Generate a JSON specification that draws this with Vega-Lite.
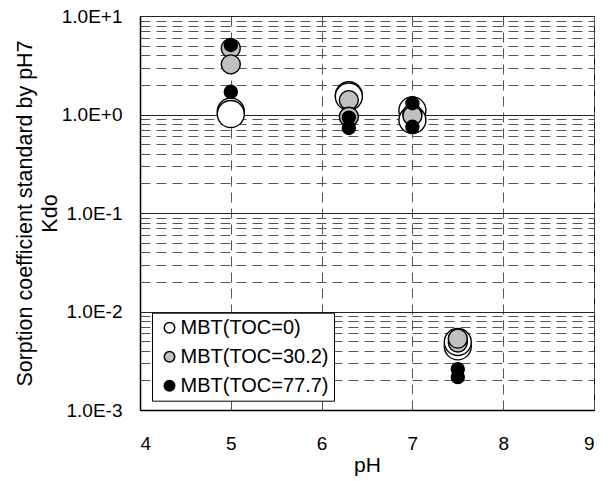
{
  "$schema": "https://vega.github.io/schema/vega-lite/v6.json",
  "autosize": "none",
  "width": 454,
  "height": 394,
  "padding": {"left": 140, "top": 16, "right": 14, "bottom": 71},
  "background": "white",
  "config": {
    "font": "Liberation Sans",
    "view": {"stroke": "black", "strokeWidth": 1}
  },
  "data": {
    "values": [
      {"pH": 5, "Kdo": 1.07, "series": "MBT(TOC=0)"},
      {"pH": 5, "Kdo": 1.01, "series": "MBT(TOC=0)"},
      {"pH": 6.3, "Kdo": 1.57, "series": "MBT(TOC=0)"},
      {"pH": 6.3, "Kdo": 1.52, "series": "MBT(TOC=0)"},
      {"pH": 7, "Kdo": 1.10, "series": "MBT(TOC=0)"},
      {"pH": 7, "Kdo": 0.88, "series": "MBT(TOC=0)"},
      {"pH": 7.5, "Kdo": 0.00443, "series": "MBT(TOC=0)"},
      {"pH": 7.5, "Kdo": 0.0049, "series": "MBT(TOC=0)"},
      {"pH": 5, "Kdo": 4.70, "series": "MBT(TOC=30.2)"},
      {"pH": 5, "Kdo": 3.23, "series": "MBT(TOC=30.2)"},
      {"pH": 6.3, "Kdo": 1.40, "series": "MBT(TOC=30.2)"},
      {"pH": 6.3, "Kdo": 0.95, "series": "MBT(TOC=30.2)"},
      {"pH": 7, "Kdo": 1.02, "series": "MBT(TOC=30.2)"},
      {"pH": 7, "Kdo": 0.97, "series": "MBT(TOC=30.2)"},
      {"pH": 7.5, "Kdo": 0.00484, "series": "MBT(TOC=30.2)"},
      {"pH": 7.5, "Kdo": 0.0053, "series": "MBT(TOC=30.2)"},
      {"pH": 5, "Kdo": 5.08, "series": "MBT(TOC=77.7)"},
      {"pH": 5, "Kdo": 1.70, "series": "MBT(TOC=77.7)"},
      {"pH": 6.3, "Kdo": 0.93, "series": "MBT(TOC=77.7)"},
      {"pH": 6.3, "Kdo": 0.73, "series": "MBT(TOC=77.7)"},
      {"pH": 7, "Kdo": 1.30, "series": "MBT(TOC=77.7)"},
      {"pH": 7, "Kdo": 0.75, "series": "MBT(TOC=77.7)"},
      {"pH": 7.5, "Kdo": 0.0026, "series": "MBT(TOC=77.7)"},
      {"pH": 7.5, "Kdo": 0.00216, "series": "MBT(TOC=77.7)"}
    ]
  },
  "mark": {"type": "point", "shape": "circle", "filled": true, "stroke": "black", "strokeWidth": 1.4, "opacity": 1},
  "encoding": {
    "x": {
      "field": "pH",
      "type": "quantitative",
      "scale": {"domain": [4, 9], "nice": false, "zero": false},
      "axis": {
        "values": [4, 5, 6, 7, 8, 9],
        "format": "d",
        "title": "pH",
        "titleFontSize": 21,
        "titleFontWeight": "normal",
        "titleColor": "black",
        "titlePadding": 1,
        "labelFontSize": 19,
        "labelColor": "black",
        "labelPadding": 24,
        "ticks": false,
        "domainColor": "black",
        "domainWidth": 1.5,
        "grid": true,
        "gridColor": "#555555",
        "gridDash": [10, 6],
        "gridWidth": 1,
        "gridOpacity": 1
      }
    },
    "y": {
      "field": "Kdo",
      "type": "quantitative",
      "scale": {"type": "log", "domain": [0.001, 10], "nice": false},
      "axis": {
        "values": [0.001, 0.002, 0.003, 0.004, 0.005, 0.006, 0.007, 0.008, 0.009, 0.01, 0.02, 0.03, 0.04, 0.05, 0.06, 0.07, 0.08, 0.09, 0.1, 0.2, 0.3, 0.4, 0.5, 0.6, 0.7, 0.8, 0.9, 1, 2, 3, 4, 5, 6, 7, 8, 9, 10],
        "labelExpr": "abs(log(datum.value)/LN10 - round(log(datum.value)/LN10)) < 0.001 ? upper(format(datum.value, '.1e')) : ''",
        "labelOverlap": false,
        "labelFontSize": 19,
        "labelColor": "black",
        "labelPadding": 18,
        "ticks": false,
        "domainColor": "black",
        "domainWidth": 1.5,
        "title": ["Sorption coefficient standard by pH7", "Kdo"],
        "titleFontSize": 21.5,
        "titleFontWeight": "normal",
        "titleColor": "black",
        "titleLineHeight": 25,
        "titlePadding": 0,
        "grid": true,
        "gridOpacity": 1,
        "gridWidth": 1,
        "gridColor": {"condition": {"test": "abs(log(datum.value)/LN10 - round(log(datum.value)/LN10)) < 0.001", "value": "#222222"}, "value": "#555555"},
        "gridDash": {"condition": {"test": "abs(log(datum.value)/LN10 - round(log(datum.value)/LN10)) < 0.001", "value": []}, "value": [10, 6]}
      }
    },
    "fill": {
      "field": "series",
      "type": "nominal",
      "scale": {"domain": ["MBT(TOC=0)", "MBT(TOC=30.2)", "MBT(TOC=77.7)"], "range": ["white", "#c0c0c0", "black"]},
      "legend": {
        "title": null,
        "orient": "none",
        "legendX": 12,
        "legendY": 296.7,
        "direction": "vertical",
        "fillColor": "white",
        "strokeColor": "black",
        "cornerRadius": 0,
        "padding": 5,
        "rowPadding": 9,
        "symbolType": "circle",
        "symbolSize": 110,
        "symbolStrokeColor": "black",
        "symbolStrokeWidth": 1.5,
        "symbolOffset": 2.5,
        "labelOffset": 1,
        "labelFontSize": 20,
        "labelColor": "black",
        "labelLimit": 300
      }
    },
    "size": {
      "condition": [
        {"test": "datum.series === 'MBT(TOC=0)'", "value": 729},
        {"test": "datum.series === 'MBT(TOC=30.2)'", "value": 361}
      ],
      "value": 169
    }
  }
}
